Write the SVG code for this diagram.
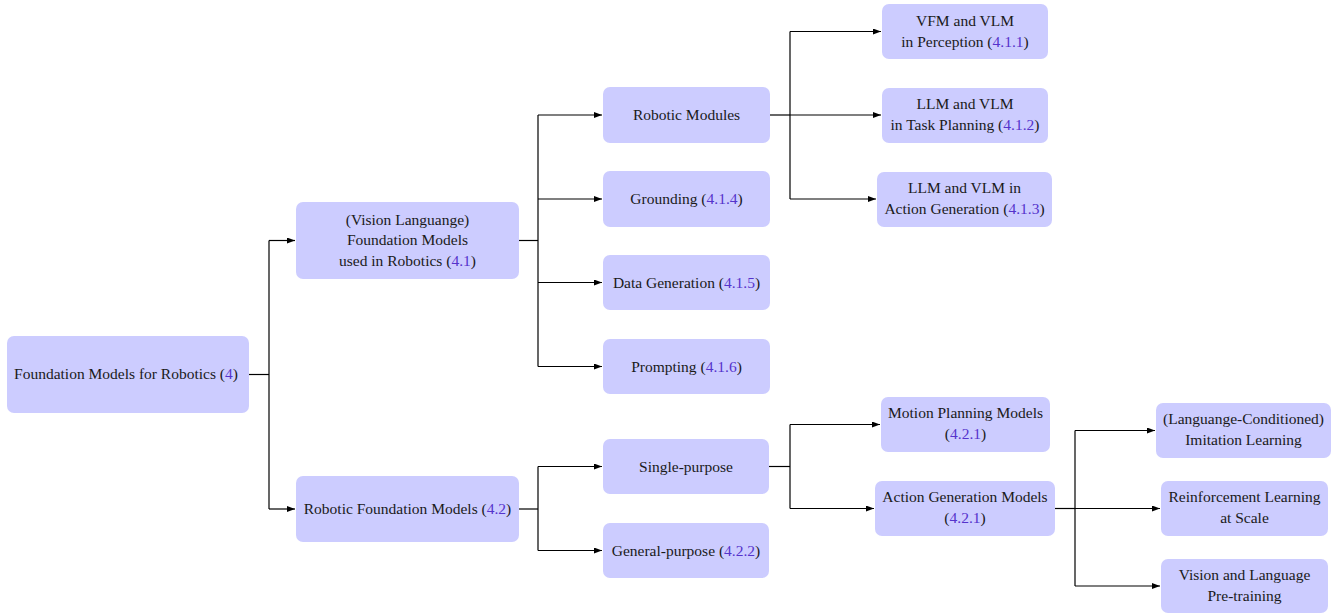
<svg xmlns="http://www.w3.org/2000/svg" width="1335" height="614" viewBox="0 0 1335 614">
<style>
.box{fill:#ccccff;stroke:none}
.t{font-family:"Liberation Serif","Times New Roman",serif;font-size:15.5px;fill:#1a1a1a;text-anchor:middle}
.n{fill:#5533cc}
.e{fill:none;stroke:#000;stroke-width:1.2}
</style>
<defs>
<marker id="ar" viewBox="0 0 8 6" refX="8" refY="3" markerWidth="8" markerHeight="6" markerUnits="userSpaceOnUse" orient="auto">
<path d="M0,0 L8,3 L0,6 Z" fill="#000"/>
</marker>
</defs>
<rect width="1335" height="614" fill="#fff"/>
<g id="connectors">
<path class="e" d="M249,374.5 H269"/>
<path class="e" d="M269,240.5 V509"/>
<path class="e" d="M269,240.5 H295" marker-end="url(#ar)"/>
<path class="e" d="M269,509 H295" marker-end="url(#ar)"/>
<path class="e" d="M519,240.5 H538"/>
<path class="e" d="M538,115 V366.5"/>
<path class="e" d="M538,115 H602" marker-end="url(#ar)"/>
<path class="e" d="M538,199 H602" marker-end="url(#ar)"/>
<path class="e" d="M538,282.5 H602" marker-end="url(#ar)"/>
<path class="e" d="M538,366.5 H602" marker-end="url(#ar)"/>
<path class="e" d="M770,115 H790"/>
<path class="e" d="M790,31.5 V199"/>
<path class="e" d="M790,31.5 H881" marker-end="url(#ar)"/>
<path class="e" d="M790,115 H881" marker-end="url(#ar)"/>
<path class="e" d="M790,199 H876" marker-end="url(#ar)"/>
<path class="e" d="M519,509 H538"/>
<path class="e" d="M538,466.5 V550.5"/>
<path class="e" d="M538,466.5 H602" marker-end="url(#ar)"/>
<path class="e" d="M538,550.5 H602" marker-end="url(#ar)"/>
<path class="e" d="M769,466.5 H790"/>
<path class="e" d="M790,424.5 V508.5"/>
<path class="e" d="M790,424.5 H880" marker-end="url(#ar)"/>
<path class="e" d="M790,508.5 H874" marker-end="url(#ar)"/>
<path class="e" d="M1055,508.5 H1075"/>
<path class="e" d="M1075,430.5 V586"/>
<path class="e" d="M1075,430.5 H1155" marker-end="url(#ar)"/>
<path class="e" d="M1075,508.5 H1160" marker-end="url(#ar)"/>
<path class="e" d="M1075,586 H1160" marker-end="url(#ar)"/>
</g>
<g id="root">
<rect class="box" x="7" y="336" width="242" height="77" rx="7"/>
<text class="t" x="126" y="379">Foundation Models for Robotics (<tspan class="n">4</tspan>)</text>
</g>
<g id="vlfm">
<rect class="box" x="296" y="202" width="223" height="77" rx="7"/>
<text class="t" x="407.5" y="224.5">(Vision Languange)</text>
<text class="t" x="407.5" y="245">Foundation Models</text>
<text class="t" x="407.5" y="265.5">used in Robotics (<tspan class="n">4.1</tspan>)</text>
</g>
<g id="rfm">
<rect class="box" x="296" y="476" width="223" height="66" rx="7"/>
<text class="t" x="407.5" y="514">Robotic Foundation Models (<tspan class="n">4.2</tspan>)</text>
</g>
<g id="modules">
<rect class="box" x="603" y="87" width="167" height="56" rx="7"/>
<text class="t" x="686.5" y="120">Robotic Modules</text>
</g>
<g id="grounding">
<rect class="box" x="603" y="171" width="167" height="56" rx="7"/>
<text class="t" x="686.5" y="204">Grounding (<tspan class="n">4.1.4</tspan>)</text>
</g>
<g id="datagen">
<rect class="box" x="603" y="255" width="167" height="55" rx="7"/>
<text class="t" x="686.5" y="287.5">Data Generation (<tspan class="n">4.1.5</tspan>)</text>
</g>
<g id="prompting">
<rect class="box" x="603" y="339" width="167" height="55" rx="7"/>
<text class="t" x="686.5" y="371.5">Prompting (<tspan class="n">4.1.6</tspan>)</text>
</g>
<g id="perception">
<rect class="box" x="882" y="4" width="166" height="55" rx="7"/>
<text class="t" x="965" y="25.5">VFM and VLM</text>
<text class="t" x="965" y="46.5">in Perception (<tspan class="n">4.1.1</tspan>)</text>
</g>
<g id="taskplanning">
<rect class="box" x="882" y="88" width="166" height="55" rx="7"/>
<text class="t" x="965" y="109">LLM and VLM</text>
<text class="t" x="965" y="130">in Task Planning (<tspan class="n">4.1.2</tspan>)</text>
</g>
<g id="actiongen">
<rect class="box" x="877" y="172" width="175" height="55" rx="7"/>
<text class="t" x="964.5" y="193">LLM and VLM in</text>
<text class="t" x="964.5" y="214">Action Generation (<tspan class="n">4.1.3</tspan>)</text>
</g>
<g id="single">
<rect class="box" x="603" y="439" width="166" height="55" rx="7"/>
<text class="t" x="686" y="471.5">Single-purpose</text>
</g>
<g id="general">
<rect class="box" x="603" y="523" width="166" height="55" rx="7"/>
<text class="t" x="686" y="555.5">General-purpose (<tspan class="n">4.2.2</tspan>)</text>
</g>
<g id="motion">
<rect class="box" x="881" y="397" width="169" height="55" rx="7"/>
<text class="t" x="965.5" y="418">Motion Planning Models</text>
<text class="t" x="965.5" y="439">(<tspan class="n">4.2.1</tspan>)</text>
</g>
<g id="actionmodels">
<rect class="box" x="875" y="481" width="180" height="55" rx="7"/>
<text class="t" x="965" y="502">Action Generation Models</text>
<text class="t" x="965" y="523">(<tspan class="n">4.2.1</tspan>)</text>
</g>
<g id="imitation">
<rect class="box" x="1156" y="403" width="175" height="55" rx="7"/>
<text class="t" x="1243.5" y="424">(Languange-Conditioned)</text>
<text class="t" x="1243.5" y="445">Imitation Learning</text>
</g>
<g id="rl">
<rect class="box" x="1161" y="481" width="167" height="55" rx="7"/>
<text class="t" x="1244.5" y="502">Reinforcement Learning</text>
<text class="t" x="1244.5" y="523">at Scale</text>
</g>
<g id="vlpt">
<rect class="box" x="1161" y="559" width="167" height="54" rx="7"/>
<text class="t" x="1244.5" y="580">Vision and Language</text>
<text class="t" x="1244.5" y="601">Pre-training</text>
</g>
</svg>
